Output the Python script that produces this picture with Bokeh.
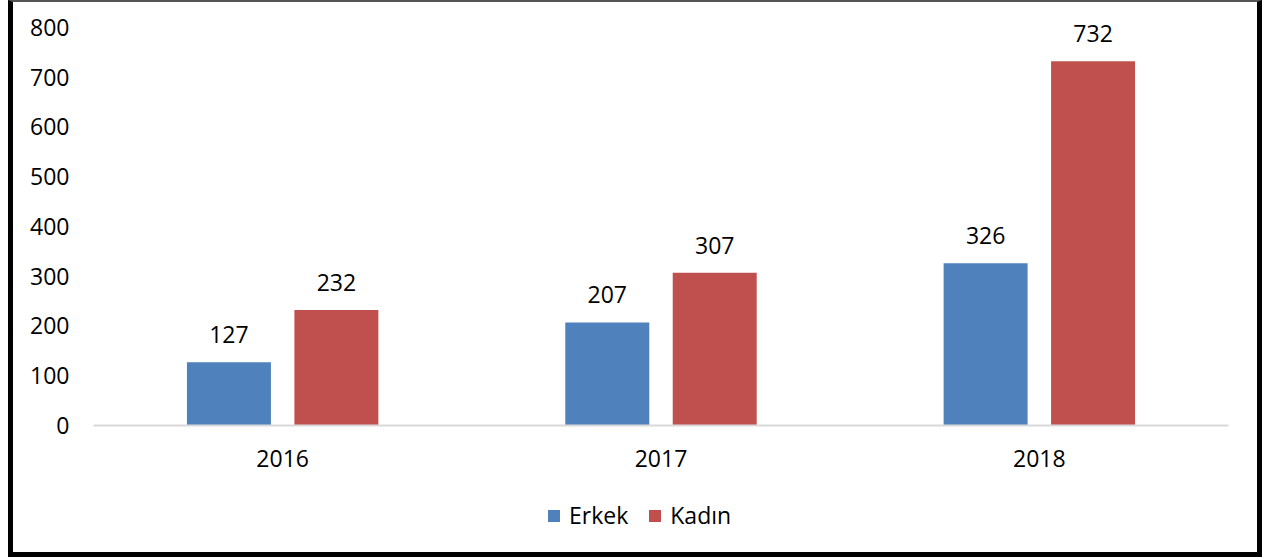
from bokeh.plotting import figure
from bokeh.layouts import column
from bokeh.models import (ColumnDataSource, FactorRange, Range1d, FixedTicker,
                          LabelSet, Legend, LegendItem)
from bokeh.core.properties import value
from bokeh.transform import dodge
from bokeh.embed import file_html
from bokeh.resources import INLINE

years = ["2016", "2017", "2018"]
erkek = [127, 207, 326]
kadin = [232, 307, 732]
series_names = ["Erkek", "Kadın"]
colors = ["#4F81BD", "#C0504D"]
y_ticks = [0, 100, 200, 300, 400, 500, 600, 700, 800]

FONT = "Open Sans"
FS = "23px"

src = ColumnDataSource(dict(x=years, erkek=erkek, kadin=kadin,
                            erkek_txt=[str(v) for v in erkek],
                            kadin_txt=[str(v) for v in kadin]))

p = figure(x_range=FactorRange(*years), y_range=Range1d(0, 850),
           width=1254, height=490, output_backend="svg", toolbar_location=None,
           min_border_left=80, min_border_right=39, min_border_top=0,
           min_border_bottom=67)
p.styles = {"border-left": "5px solid #000", "border-right": "5px solid #000",
            "border-top": "2px solid #555", "box-sizing": "border-box",
            "margin-left": "8px"}

r1 = p.vbar(x=dodge("x", -0.142, range=p.x_range), top="erkek", width=0.222,
            source=src, color=colors[0], line_color=None)
r2 = p.vbar(x=dodge("x", 0.142, range=p.x_range), top="kadin", width=0.222,
            source=src, color=colors[1], line_color=None)

for col, txt, off in [("erkek", "erkek_txt", -0.142), ("kadin", "kadin_txt", 0.142)]:
    ls = LabelSet(x=dodge("x", off, range=p.x_range), y=col, text=txt, source=src,
                  text_align="center", text_baseline="bottom", y_offset=19,
                  text_font=value(FONT), text_font_size=value(FS),
                  text_color="#000000")
    p.add_layout(ls)

p.outline_line_color = None
p.xgrid.grid_line_color = None
p.ygrid.grid_line_color = None

p.yaxis.ticker = FixedTicker(ticks=y_ticks)
p.yaxis.axis_line_color = None
p.yaxis.major_tick_line_color = None
p.yaxis.minor_tick_line_color = None
p.yaxis.major_label_standoff = 18
p.yaxis.major_label_text_font = FONT
p.yaxis.major_label_text_font_size = FS
p.yaxis.major_label_text_color = "#000000"

p.xaxis.axis_line_color = "#D9D9D9"
p.xaxis.axis_line_width = 2
p.xaxis.major_tick_line_color = None
p.xaxis.minor_tick_line_color = None
p.xaxis.major_label_standoff = 18
p.xaxis.major_label_text_font = FONT
p.xaxis.major_label_text_font_size = FS
p.xaxis.major_label_text_color = "#000000"

# legend strip below the chart (its zero-width bars lie far outside its view)
pl = figure(width=1254, height=67, output_backend="svg", toolbar_location=None,
            x_axis_location=None, y_axis_location=None,
            x_range=FactorRange(*years), y_range=Range1d(-2000, -1000),
            min_border=0, min_border_left=0, min_border_right=0,
            min_border_top=0, min_border_bottom=0)
pl.styles = {"border-left": "5px solid #000", "border-right": "5px solid #000",
             "border-bottom": "5px solid #000", "box-sizing": "border-box",
             "margin-left": "8px"}
pl.outline_line_color = None
pl.xgrid.visible = False
pl.ygrid.visible = False
lr1 = pl.vbar(x="x", top="erkek", width=0, source=src,
              color=colors[0], line_color=None)
lr2 = pl.vbar(x="x", top="kadin", width=0, source=src,
              color=colors[1], line_color=None)

legend = Legend(items=[LegendItem(label=series_names[0], renderers=[lr1]),
                       LegendItem(label=series_names[1], renderers=[lr2])],
                location=(453, 26), orientation="horizontal",
                border_line_color=None, background_fill_alpha=0,
                padding=0, margin=0, spacing=19, label_standoff=8,
                glyph_width=15, glyph_height=15,
                label_text_font=FONT, label_text_font_size=FS,
                label_text_color="#000000")
pl.add_layout(legend, "center")

layout = column(p, pl, spacing=0)
open("out.html", "w").write(file_html(layout, INLINE))
